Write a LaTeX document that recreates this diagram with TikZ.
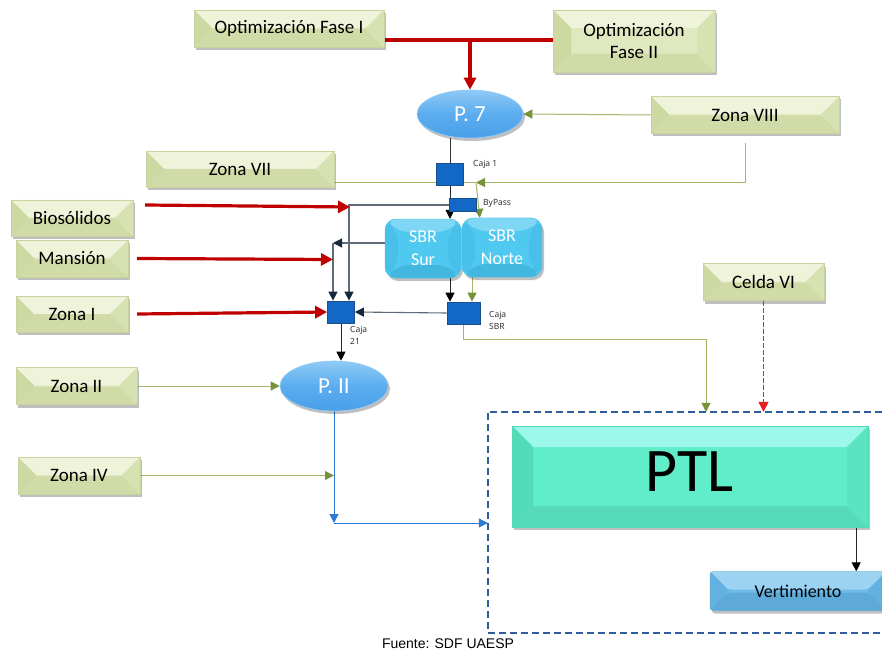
\documentclass[tikz,border=0pt]{standalone}
\usepackage{fontspec}
\setmainfont{Carlito}
\newfontfamily\smallfont{Open Sans}
\newfontfamily\footfont{Liberation Sans}
\usetikzlibrary{arrows.meta,shadows,shapes.geometric}
\pgfdeclarelayer{bg}
\pgfsetlayers{bg,main}
\definecolor{gmain}{HTML}{DFE8BE}
\definecolor{gtop}{HTML}{EEF3DA}
\definecolor{gbot}{HTML}{D0DBA8}
\definecolor{gleft}{HTML}{CDD9A3}
\definecolor{gright}{HTML}{D7E2B2}
\definecolor{gborder}{HTML}{C8D4A0}
\definecolor{cmain}{HTML}{50C9F1}
\definecolor{ctop}{HTML}{7ED8F5}
\definecolor{cbot}{HTML}{42B7E0}
\definecolor{cside}{HTML}{48C0E9}
\definecolor{tmain}{HTML}{60EDC9}
\definecolor{ttop}{HTML}{9CF8EA}
\definecolor{tbot}{HTML}{57DAB8}
\definecolor{tleft}{HTML}{53DAB7}
\definecolor{tright}{HTML}{5CE3C2}
\definecolor{vmain}{HTML}{70BCE8}
\definecolor{vtop}{HTML}{9CD3F3}
\definecolor{vbot}{HTML}{5DA9D8}
\definecolor{vside}{HTML}{63B1E0}
\definecolor{elltop}{HTML}{8FCAF6}
\definecolor{ellmid}{HTML}{5BADEF}
\definecolor{ellbot}{HTML}{4A9FE8}
\definecolor{cajaf}{HTML}{1268C4}
\definecolor{cajad}{HTML}{1B4F8C}
\definecolor{redc}{HTML}{C00000}
\definecolor{olivel}{HTML}{A3B766}
\definecolor{oliveh}{HTML}{76923C}
\definecolor{darkl}{HTML}{5E6A75}
\definecolor{darkh}{HTML}{17283A}
\definecolor{bluec}{HTML}{2C7BD2}
\definecolor{redd}{RGB}{235,30,30}
\definecolor{framec}{HTML}{2D5E99}
\newcommand\bevelpaint[5]{%
 \fill[#2] (path picture bounding box.north west) -- (path picture bounding box.north east) -- ([xshift=-#1,yshift=-#1]path picture bounding box.north east) -- ([xshift=#1,yshift=-#1]path picture bounding box.north west) -- cycle;
 \fill[#3] (path picture bounding box.south west) -- (path picture bounding box.south east) -- ([xshift=-#1,yshift=#1]path picture bounding box.south east) -- ([xshift=#1,yshift=#1]path picture bounding box.south west) -- cycle;
 \fill[#4] (path picture bounding box.north west) -- ([xshift=#1,yshift=-#1]path picture bounding box.north west) -- ([xshift=#1,yshift=#1]path picture bounding box.south west) -- (path picture bounding box.south west) -- cycle;
 \fill[#5] (path picture bounding box.north east) -- ([xshift=-#1,yshift=-#1]path picture bounding box.north east) -- ([xshift=-#1,yshift=#1]path picture bounding box.south east) -- (path picture bounding box.south east) -- cycle;
}
\tikzset{
 shadowed/.style={drop shadow={shadow xshift=2pt,shadow yshift=-3pt,opacity=0.25,fill=black}},
 greenbox/.style={shadowed,fill=gmain,draw=gborder,line width=0.4pt,inner sep=0pt,align=center,
   path picture={\bevelpaint{18pt}{gtop}{gbot}{gleft}{gright}},font=\fontsize{19}{22}\selectfont},
 cyanbox/.style={shadowed,fill=cmain,draw=cside,line width=0.4pt,rounded corners=11pt,inner sep=0pt,align=center,text=white,
   path picture={\bevelpaint{13pt}{ctop}{cbot}{cside}{cside}},font=\fontsize{18}{23}\selectfont},
 tealbox/.style={shadowed,fill=tmain,draw=tleft,line width=0.4pt,inner sep=0pt,
   path picture={\bevelpaint{21pt}{ttop}{tbot}{tleft}{tright}},font=\fontsize{62}{70}\selectfont},
 vertbox/.style={shadowed,fill=vmain,draw=vside,line width=0.4pt,inner sep=0pt,rounded corners=3pt,
   path picture={\bevelpaint{18pt}{vtop}{vbot}{vside}{vside}},font=\fontsize{18}{22}\selectfont},
 ellbox/.style={shadowed,ellipse,inner sep=0pt,top color=elltop,bottom color=ellbot,middle color=ellmid,
   draw=elltop,line width=0.6pt,text=white,font=\fontsize{23}{26}\selectfont},
 cajabox/.style={fill=cajaf,draw=cajad,line width=0.7pt,inner sep=0pt},
 smalllbl/.style={inner sep=1pt,align=left,font=\smallfont\fontsize{8.5}{12}\selectfont,text=black!85},
 redline/.style={draw=redc,line width=3.2pt},
 redarr/.style={draw=redc,line width=3.2pt,-{Triangle[length=12pt,width=12pt]}},
 oliveln/.style={draw=olivel,line width=1pt},
 olivearr/.style={draw=olivel,line width=1pt,-{Triangle[length=9pt,width=9pt,color=oliveh]}},
 darkarr/.style={draw=darkl,line width=1.1pt,-{Triangle[length=9pt,width=9pt,color=darkh]}},
 blackln/.style={draw=black!80,line width=0.9pt},
 blackarr/.style={draw=black!85,line width=0.9pt,-{Triangle[length=9pt,width=9pt,color=black]}},
 bluearr/.style={draw=bluec,line width=1pt,-{Triangle[length=9pt,width=9pt]}},
 dotarr/.style={draw=redd,line width=1.5pt,dash pattern=on 5pt off 2pt,-{Triangle[length=10pt,width=10pt]}},
 framest/.style={draw=framec,line width=1.6pt,dash pattern=on 7pt off 4pt},
}
\begin{document}
\begin{tikzpicture}[x=1pt,y=-1pt]
\useasboundingbox (0,0) rectangle (882,652);
\begin{pgfonlayer}{bg}
\fill[white] (0,0) rectangle (882,652);
\end{pgfonlayer}

% nodes
\node[greenbox,minimum width=190pt,minimum height=37pt] (of1) at (289,28.5) {Optimización Fase I};
\node[greenbox,minimum width=162pt,minimum height=62pt] (of2) at (634,41) {Optimización\\Fase II};
\node[ellbox,minimum width=106pt,minimum height=48pt] (p7) at (470,114) {P. 7};
\node[greenbox,minimum width=188pt,minimum height=37pt] (z8) at (745,115) {Zona VIII};
\node[greenbox,minimum width=188pt,minimum height=36pt] (z7) at (240,169) {Zona VII};
\node[cajabox,minimum width=27pt,minimum height=22pt] (c1) at (450,174) {};
\node[cajabox,minimum width=27pt,minimum height=13pt] (bp) at (463,205) {};
\node[greenbox,minimum width=122pt,minimum height=36pt] (bio) at (72,218) {Biosólidos};
\node[greenbox,minimum width=112pt,minimum height=37pt] (man) at (72,258.5) {Mansión};
\node[greenbox,minimum width=112pt,minimum height=36pt] (z1) at (72,314) {Zona I};
\node[cyanbox,minimum width=76pt,minimum height=59pt] (sur) at (423,248.5) {SBR\\Sur};
\node[cyanbox,minimum width=80pt,minimum height=59pt] (nor) at (502,247.5) {SBR\\Norte};
\node[cajabox,minimum width=27pt,minimum height=22pt] (c21) at (341,312) {};
\node[cajabox,minimum width=33pt,minimum height=22pt] (csbr) at (463.5,313) {};
\node[ellbox,minimum width=108pt,minimum height=50pt] (p2) at (334,386) {P. II};
\node[greenbox,minimum width=121pt,minimum height=37pt] (z2) at (76.5,386) {Zona II};
\node[greenbox,minimum width=122pt,minimum height=37pt] (z4) at (79,475.5) {Zona IV};
\node[greenbox,minimum width=121pt,minimum height=37pt] (c6) at (763.5,282) {Celda VI};
\node[inner sep=0pt,minimum width=394pt,minimum height=221pt] (frame) at (685,522.5) {};
\node[tealbox,minimum width=356pt,minimum height=101pt] (ptl) at (690,476.5) {\raisebox{3.5pt}[\height][3.5pt]{PTL}};
\node[vertbox,minimum width=176pt,minimum height=39pt] (vert) at (798,591) {Vertimiento};

\node[smalllbl,anchor=west] (l1) at (472,164) {Caja 1};
\node[smalllbl,anchor=west] (l2) at (482,203) {ByPass};
\node[smalllbl,anchor=north west] (l3) at (349,325) {Caja\\21};
\node[smalllbl,anchor=north west] (l4) at (488,310) {Caja\\SBR};
\node[inner sep=0pt,font=\footfont\fontsize{14}{16}\selectfont] (src) at (448,644) {Fuente: SDF UAESP};

% connectors
\draw[dotarr] (c6.south) -- (c6.south |- frame.north);
\begin{pgfonlayer}{bg}
\draw[framest] (frame.north east) -- (frame.north west) -- (frame.south west) -- (frame.south east);
\coordinate (rj) at (470,40);
\draw[redline] (of1.east |- rj) -- (of2.west |- rj);
\draw[redarr] (rj) -- (p7.north);
\draw[olivearr] (z8.west) -- (p7.east);
\coordinate (j1) at (476,182.5);
\draw[olivearr] ([yshift=-9pt]z8.south) |- (j1);
\draw[oliveln] (z7.east |- j1) -- (j1);
\draw[olivearr] (j1) -- ([xshift=18pt]nor.north west);
\draw[blackln] (c1.north |- p7.south) -- (c1.north);
\draw[blackarr] (c1.south) -- (c1.south |- sur.north);
\draw[darkarr] (bp.west) -| ([xshift=8pt]c21.north);
\coordinate (k1) at (333,243);
\draw[darkarr] ([yshift=5.5pt]sur.west) -- (k1);
\draw[darkarr] (k1) -- ([xshift=-8pt]c21.north);
\coordinate (rb) at (350,207);
\draw[redarr] ([xshift=12pt,yshift=13pt]bio.east) -- (rb);
\coordinate (rm) at (333,259.5);
\draw[redarr] ([xshift=9pt]man.east) -- (rm);
\draw[redarr] ([xshift=9pt]z1.east) -- (c21.west);
\draw[blackarr] (c1.south |- sur.south) -- (c1.south |- csbr.north);
\draw[olivearr] ([xshift=-30pt]nor.south) -- ([xshift=-30pt]nor.south |- csbr.north);
\draw[darkarr] (csbr.west) -- (c21.east);
\draw[blackarr] (c21.south) -- (c21.south |- p2.north);
\draw[olivearr] (z2.east) -- (p2.west);
\coordinate (bj) at (334,523);
\draw[bluearr] (p2.south) -- (bj);
\draw[olivearr] (z4.east) -- (p2.south |- z4.east);
\draw[bluearr] (bj) -- (frame.west |- bj);
\coordinate (t1) at (706,339);
\draw[olivearr] (csbr.south) |- (t1) -- (t1 |- frame.north);
\draw[blackarr] ([xshift=-12pt]ptl.south east) -- ([xshift=-12pt]ptl.south east |- vert.north);
\end{pgfonlayer}
\end{tikzpicture}
\end{document}
